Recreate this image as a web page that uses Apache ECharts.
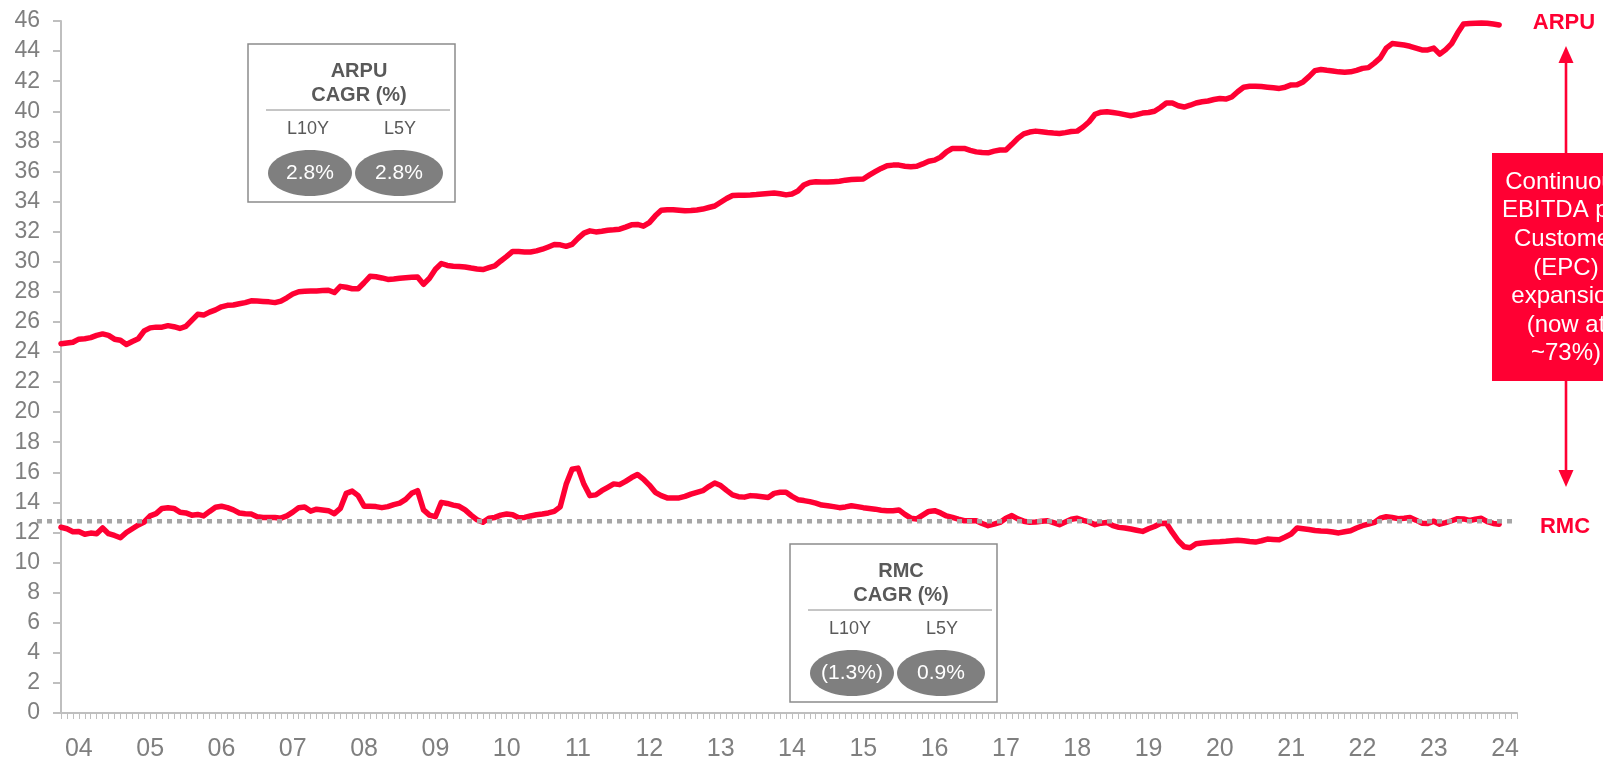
<!DOCTYPE html>
<html>
<head>
<meta charset="utf-8">
<script src="https://cdn.jsdelivr.net/npm/echarts@6/dist/echarts.min.js"></script>
<style>
  html, body { margin: 0; padding: 0; background: #ffffff; }
  #chart { width: 1603px; height: 759px; }
</style>
</head>
<body>
<div id="chart"></div>
<script>
// Monthly series, Oct 2003 .. Dec 2023 (first row = Oct-Dec 2003, then one row per year)
const arpu = [
  24.55, 24.6, 24.65,
  24.85, 24.88, 24.95, 25.1, 25.2, 25.1, 24.85, 24.78, 24.5, 24.7, 24.88, 25.4,
  25.6, 25.65, 25.65, 25.75, 25.68, 25.56, 25.7, 26.1, 26.5, 26.45, 26.65, 26.8,
  27.0, 27.1, 27.12, 27.2, 27.28, 27.4, 27.38, 27.36, 27.33, 27.28, 27.38, 27.6,
  27.85, 28.0, 28.03, 28.05, 28.06, 28.08, 28.1, 27.95, 28.36, 28.3, 28.2, 28.2,
  28.6, 29.03, 29.0, 28.92, 28.82, 28.85, 28.9, 28.93, 28.96, 28.98, 28.5, 28.9,
  29.5, 29.88, 29.75, 29.7, 29.68, 29.65, 29.58, 29.52, 29.48, 29.6, 29.72, 30.05,
  30.35, 30.68, 30.67, 30.65, 30.65, 30.72, 30.83, 30.98, 31.14, 31.12, 31.02, 31.15,
  31.55, 31.9, 32.05, 31.98, 32.03, 32.09, 32.12, 32.16, 32.3, 32.45, 32.48, 32.36,
  32.6, 33.05, 33.42, 33.45, 33.46, 33.42, 33.38, 33.4, 33.44, 33.5, 33.6, 33.7,
  33.95, 34.2, 34.4, 34.42, 34.42, 34.43, 34.46, 34.5, 34.54, 34.57, 34.52, 34.44,
  34.5, 34.7, 35.1, 35.27, 35.31, 35.3, 35.29, 35.32, 35.35, 35.42, 35.46, 35.48,
  35.5, 35.75, 35.98, 36.2, 36.38, 36.42, 36.42, 36.35, 36.31, 36.34, 36.5, 36.68,
  36.75, 36.95, 37.3, 37.53, 37.53, 37.53, 37.4, 37.3, 37.26, 37.24, 37.35, 37.42,
  37.42, 37.8, 38.2, 38.5, 38.62, 38.68, 38.64, 38.59, 38.55, 38.52, 38.58, 38.65,
  38.68, 38.95, 39.3, 39.8, 39.94, 39.97, 39.92, 39.86, 39.78, 39.7, 39.78, 39.88,
  39.92, 40.0, 40.25, 40.55, 40.55, 40.37, 40.28, 40.4, 40.55, 40.63, 40.68, 40.78,
  40.85, 40.81, 40.95, 41.3, 41.6, 41.66, 41.67, 41.64, 41.6, 41.56, 41.52, 41.6,
  41.75, 41.76, 41.95, 42.3, 42.7, 42.78, 42.72, 42.68, 42.62, 42.59, 42.62, 42.72,
  42.85, 42.9, 43.2, 43.55, 44.2, 44.5, 44.45, 44.4, 44.32, 44.2, 44.08, 44.08,
  44.2, 43.8, 44.1, 44.5, 45.2, 45.8, 45.83, 45.85, 45.86, 45.85, 45.8, 45.74
];

const rmc = [
  12.35, 12.25, 12.05,
  12.07, 11.88, 11.96, 11.92, 12.3, 11.92, 11.8, 11.65, 12.0, 12.25, 12.5, 12.7,
  13.1, 13.25, 13.6, 13.65, 13.6, 13.35, 13.3, 13.15, 13.2, 13.1, 13.4, 13.68,
  13.74, 13.65, 13.5, 13.3, 13.24, 13.23, 13.05, 13.0, 13.0, 13.0, 12.95, 13.1,
  13.35, 13.65, 13.7, 13.42, 13.55, 13.5, 13.45, 13.25, 13.6, 14.6, 14.75, 14.45,
  13.75, 13.74, 13.72, 13.65, 13.72, 13.85, 13.95, 14.2, 14.6, 14.78, 13.5, 13.15,
  13.05, 14.0, 13.93, 13.82, 13.74, 13.5, 13.15, 12.85, 12.68, 12.95, 13.0, 13.15,
  13.23, 13.18, 12.98, 13.0, 13.1, 13.18, 13.23, 13.3, 13.4, 13.7, 15.2, 16.2,
  16.28, 15.2, 14.45, 14.5, 14.78, 15.0, 15.23, 15.18, 15.4, 15.65, 15.85, 15.55,
  15.15, 14.67, 14.45, 14.3, 14.29, 14.3, 14.4, 14.55, 14.67, 14.78, 15.05, 15.29,
  15.12, 14.8, 14.5, 14.38, 14.35, 14.45, 14.42, 14.38, 14.33, 14.6, 14.67, 14.67,
  14.4, 14.18, 14.12, 14.05, 13.95, 13.82, 13.78, 13.72, 13.65, 13.7, 13.78, 13.72,
  13.65, 13.6, 13.55, 13.48, 13.45, 13.45, 13.5, 13.2, 12.95, 12.9, 13.15, 13.4,
  13.45, 13.3, 13.1, 13.0, 12.88, 12.78, 12.78, 12.78, 12.6, 12.45, 12.55, 12.67,
  12.95, 13.12, 12.9, 12.75, 12.68, 12.7, 12.75, 12.78, 12.65, 12.52, 12.7, 12.88,
  12.94, 12.8, 12.7, 12.52, 12.62, 12.67, 12.45, 12.34, 12.3, 12.23, 12.15, 12.07,
  12.25, 12.4, 12.6, 12.62, 12.0, 11.45, 11.05, 10.98, 11.25, 11.3, 11.34, 11.36,
  11.38, 11.41, 11.45, 11.49, 11.45, 11.4, 11.36, 11.45, 11.56, 11.54, 11.52, 11.7,
  11.9, 12.3, 12.25, 12.2, 12.13, 12.1, 12.08, 12.03, 11.97, 12.05, 12.12, 12.3,
  12.45, 12.55, 12.67, 12.95, 13.05, 13.0, 12.92, 12.95, 13.0, 12.82, 12.62, 12.6,
  12.75, 12.55, 12.65, 12.78, 12.92, 12.9, 12.8, 12.88, 12.94, 12.72, 12.6, 12.55
];

// Year tick labels shown under each January
const yearLabels = ['04','05','06','07','08','09','10','11','12','13','14',
                    '15','16','17','18','19','20','21','22','23','24'];

// Reference level drawn as the dotted line
const rmcReference = 12.75;

// CAGR call-outs
const arpuCagr = { title: 'ARPU\nCAGR (%)', l10y: '2.8%', l5y: '2.8%' };
const rmcCagr  = { title: 'RMC\nCAGR (%)',  l10y: '(1.3%)', l5y: '0.9%' };

const epcNote = 'Continuous\nEBITDA per\nCustomer\n(EPC)\nexpansion\n(now at\n~73%)';

// Month categories: Oct 2003 .. Mar 2024
const months = [];
for (let i = 0; i < 246; i++) {
  const y = 2003 + Math.floor((9 + i) / 12);
  const m = ((9 + i) % 12) + 1;
  months.push(y + '-' + (m < 10 ? '0' + m : m));
}

const RED = '#ff0033';
const AXIS_GREY = '#bfbfbf';
const TEXT_GREY = '#7f7f7f';
const DARK_GREY = '#595959';
const FONT = '"Liberation Sans", Arial, sans-serif';

const chart = echarts.init(document.getElementById('chart'), null, { renderer: 'canvas' });

const isYearStart = (idx, val) => val.slice(5) === '01' && yearLabels.indexOf(val.slice(2, 4)) >= 0;

chart.setOption({
  animation: false,
  backgroundColor: '#ffffff',
  grid: { left: 61, right: 86, top: 21, bottom: 46, containLabel: false, outerBoundsMode: 'none' },
  xAxis: {
    type: 'category',
    data: months,
    boundaryGap: false,
    axisLine: { lineStyle: { color: AXIS_GREY, width: 2 } },
    axisTick: { interval: 0, length: 6, lineStyle: { color: AXIS_GREY, width: 1 } },
    axisLabel: {
      interval: isYearStart,
      formatter: v => v.slice(2, 4),
      color: TEXT_GREY, fontSize: 25, fontFamily: FONT, margin: 24
    },
    splitLine: { show: false }
  },
  yAxis: {
    type: 'value',
    min: 0, max: 46, interval: 2,
    axisLine: { show: true, lineStyle: { color: AXIS_GREY, width: 2 } },
    axisTick: { show: true, length: 8, lineStyle: { color: AXIS_GREY, width: 2 } },
    axisLabel: { color: TEXT_GREY, fontSize: 23, fontFamily: FONT, margin: 21 },
    splitLine: { show: false }
  },
  series: [
    {
      name: 'ARPU', type: 'line', data: arpu, showSymbol: false, smooth: false,
      lineStyle: { color: RED, width: 5.5, join: 'round', cap: 'round' }, z: 3
    },
    {
      name: 'RMC', type: 'line', data: rmc, showSymbol: false, smooth: false,
      lineStyle: { color: RED, width: 5.5, join: 'round', cap: 'round' }, z: 3
    }
  ]
});

function txt(x, y, text, size, color, weight, extra) {
  return Object.assign({
    type: 'text', x: x, y: y, z: 110,
    style: {
      text: text, fill: color, fontSize: size, fontWeight: weight || 'normal',
      fontFamily: FONT, align: 'center', verticalAlign: 'middle',
      textAlign: 'center', textVerticalAlign: 'middle'
    }
  }, extra || {});
}

function cagrBox(L, T, info) {
  const W = 207, H = 158;
  const els = [
    { type: 'rect', z: 100, shape: { x: L, y: T, width: W, height: H },
      style: { fill: '#ffffff', stroke: '#8c8c8c', lineWidth: 1.5 } },
    { type: 'line', z: 101, shape: { x1: L + 18, y1: T + 66, x2: L + W - 5, y2: T + 66 },
      style: { stroke: '#8c8c8c', lineWidth: 1 } },
    { type: 'ellipse', z: 101, shape: { cx: L + 62, cy: T + 129, rx: 42, ry: 23 },
      style: { fill: '#7f7f7f' } },
    { type: 'ellipse', z: 101, shape: { cx: L + 151, cy: T + 129, rx: 44, ry: 23 },
      style: { fill: '#7f7f7f' } }
  ];
  const lines = info.title.split('\n');
  els.push(txt(L + 111, T + 27, lines[0], 20, DARK_GREY, 'bold'));
  els.push(txt(L + 111, T + 51, lines[1], 20, DARK_GREY, 'bold'));
  els.push(txt(L + 60, T + 85, 'L10Y', 18, DARK_GREY));
  els.push(txt(L + 152, T + 85, 'L5Y', 18, DARK_GREY));
  els.push(txt(L + 62, T + 129, info.l10y, 21, '#ffffff'));
  els.push(txt(L + 151, T + 129, info.l5y, 21, '#ffffff'));
  return els;
}

const yRef = chart.convertToPixel({ yAxisIndex: 0 }, rmcReference);
const AX = 1566; // arrow column

const note = txt(1566, 268, epcNote, 24, '#ffffff', 'normal');
note.style.lineHeight = 28.6;

const elements = [
  // dotted reference level
  { type: 'line', z: 90, shape: { x1: 37, y1: yRef, x2: 1512, y2: yRef },
    style: { stroke: '#a6a6a6', lineWidth: 4.5, lineDash: [5, 5], lineCap: 'butt' } },
  // up / down arrows around the EPC note
  { type: 'line', z: 100, shape: { x1: AX, y1: 60, x2: AX, y2: 153 },
    style: { stroke: RED, lineWidth: 2.6 } },
  { type: 'polygon', z: 100, shape: { points: [[AX, 46], [AX - 7.5, 63], [AX + 7.5, 63]] },
    style: { fill: RED } },
  { type: 'line', z: 100, shape: { x1: AX, y1: 381, x2: AX, y2: 473 },
    style: { stroke: RED, lineWidth: 2.6 } },
  { type: 'polygon', z: 100, shape: { points: [[AX, 487], [AX - 7.5, 470], [AX + 7.5, 470]] },
    style: { fill: RED } },
  { type: 'rect', z: 100, shape: { x: 1492, y: 153, width: 150, height: 228 },
    style: { fill: RED } },
  note,
  txt(1564, 23, 'ARPU', 22, RED, 'bold'),
  txt(1565, 527, 'RMC', 22, RED, 'bold')
];

chart.setOption({
  graphic: { elements: elements.concat(cagrBox(248, 44, arpuCagr), cagrBox(790, 544, rmcCagr)) }
});
</script>
</body>
</html>
